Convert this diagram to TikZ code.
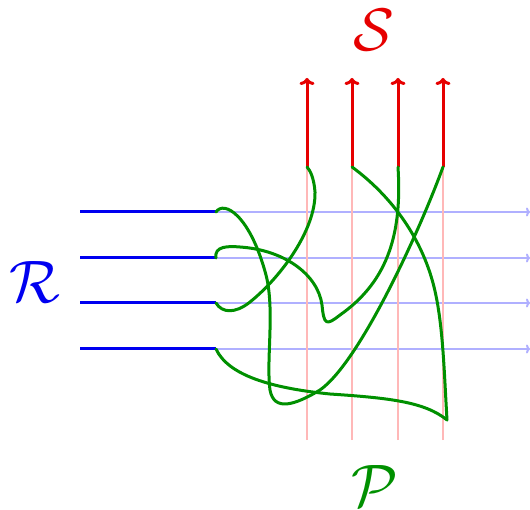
\documentclass[tikz,border=0pt]{standalone}
\usepackage{amsmath,amssymb}
\usepackage{tikz}
\usetikzlibrary{arrows.meta,positioning,calc}
\usepackage{xcolor}
\definecolor{RColor}{HTML}{0000F0}
\definecolor{SColor}{HTML}{E60000}
\definecolor{PColor}{HTML}{009000}
\definecolor{RLight}{HTML}{B0B0FF}
\definecolor{SLight}{HTML}{FFB8B8}

\begin{document}
\begin{tikzpicture}[x=1pt,y=-1pt,
    wireR/.style={RColor,line width=3pt},
    wireRlight/.style={RLight,line width=2pt,-{To[length=4pt,width=9pt]}},
    wireS/.style={SColor,line width=3pt,-{To[length=7pt,width=15pt]}},
    wireSlight/.style={SLight,line width=2pt},
    braid/.style={PColor,line width=3pt,line join=round,line cap=round},
    setlabel/.style={scale=6,inner sep=0pt}]
  \useasboundingbox (0,0) rectangle (530,510);
  % input wires of R
  \foreach \i/\y in {1/212,2/258,3/303,4/349}{
    \coordinate (a\i) at (80,\y);
    \coordinate (r\i) at (216,\y);
    \coordinate (e\i) at (530,\y);
    \draw[wireRlight](r\i)--(e\i);
    \draw[wireR](a\i)--(r\i);}
  % output wires of S
  \foreach \j/\x in {1/307,2/352,3/398,4/443}{
    \coordinate (b\j) at (\x,440);
    \coordinate (s\j) at (\x,167);
    \coordinate (t\j) at (\x,78);
    \draw[wireSlight](b\j)--(s\j);
    \draw[wireS](s\j)--(t\j);}
  % the braid P
  \draw[braid](r1) .. controls (224,200) and (250,215) .. (266,275)
    .. controls (275,310) and (266,360) .. (270,390)
    .. controls (274,412) and (295,405) .. (320,390)
    .. controls (360,362) and (420,230) .. (s4);
  \draw[braid](r2) .. controls (214,246) and (228,246) .. (240,247)
    .. controls (285,250) and (318,275) .. (322,305)
    .. controls (324,325) and (326,326) .. (340,315)
    .. controls (390,280) and (402,230) .. (s3);
  \draw[braid](r3) .. controls (222,313) and (235,314) .. (250,302)
    .. controls (280,278) and (316,230) .. (315,192)
    .. controls (314,178) and (310,170) .. (s1);
  \draw[braid](r4) .. controls (228,375) and (270,388) .. (330,394)
    .. controls (390,398) and (425,402) .. (447,420)
    .. controls (444,370) and (443,320) .. (433,283)
    .. controls (420,235) and (390,195) .. (s2);
  \node[setlabel,SColor](S) at (374,30){$\mathcal{S}$};
  \node[setlabel,RColor](R) at (35,282){$\mathcal{R}$};
  \node[setlabel,PColor](P) at (375,486){$\mathcal{P}$};
\end{tikzpicture}
\end{document}
